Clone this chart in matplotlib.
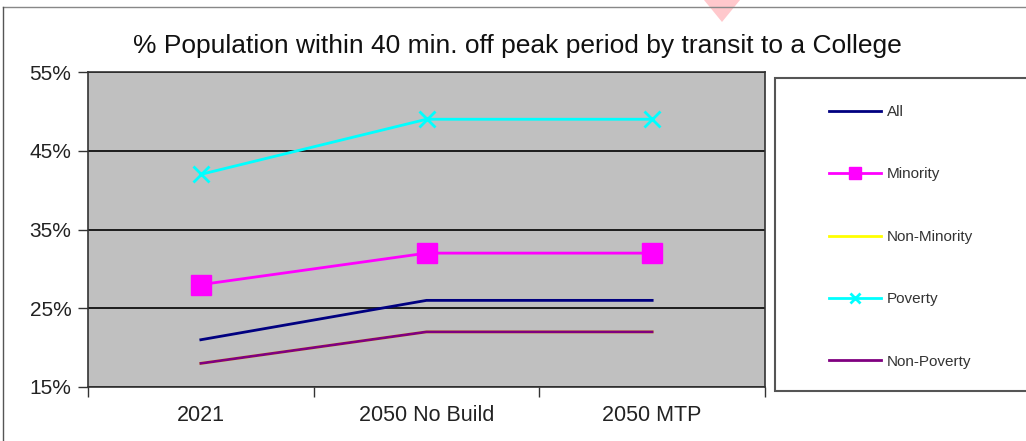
import matplotlib
matplotlib.use("Agg")
import matplotlib.pyplot as plt
from matplotlib.patches import Rectangle, Polygon
from matplotlib.lines import Line2D
from matplotlib.ticker import FixedLocator, PercentFormatter

plt.rcParams['font.family'] = ['Liberation Sans', 'DejaVu Sans']

categories = ["2021", "2050 No Build", "2050 MTP"]
series_names = ["All", "Minority", "Non-Minority", "Poverty", "Non-Poverty"]
all_vals = [21, 26, 26]
minority_vals = [28, 32, 32]
non_minority_vals = [18, 22, 22]
poverty_vals = [42, 49, 49]
non_poverty_vals = [18, 22, 22]
y_ticks = [15, 25, 35, 45, 55]
title = "% Population within 40 min. off peak period by transit to a College"

W, H = 1026, 441
fig = plt.figure(figsize=(W / 100, H / 100), dpi=100)
fig.patch.set_facecolor("white")

# axes placement
ax = fig.add_axes([88 / W, 1 - 387 / H, (765 - 88) / W, (387 - 72) / H])
ax.set_facecolor("#c0c0c0")
x = list(range(len(categories)))

styles = {
    "All": dict(color="#000080", lw=2.0),
    "Minority": dict(color="#ff00ff", lw=2.0, marker="s", ms=14, mec="#ff00ff"),
    "Non-Minority": dict(color="#ffff00", lw=2.0),
    "Poverty": dict(color="#00ffff", lw=2.0, marker="x", ms=12, mew=2.0),
    "Non-Poverty": dict(color="#800080", lw=2.0),
}
data = {
    "All": all_vals,
    "Minority": minority_vals,
    "Non-Minority": non_minority_vals,
    "Poverty": poverty_vals,
    "Non-Poverty": non_poverty_vals,
}
handles = []
for name in series_names:
    (h,) = ax.plot(x, data[name], label=name, zorder=3, **styles[name])
    handles.append(h)

ax.set_xlim(-0.5, len(categories) - 0.5)
ax.set_ylim(15, 55)
ax.yaxis.set_major_locator(FixedLocator(y_ticks))
ax.yaxis.set_major_formatter(PercentFormatter(decimals=0))
ax.grid(axis="y", color="black", lw=1.2, zorder=1)
ax.set_axisbelow(True)

ax.set_xticks(x)
ax.set_xticklabels(categories)
ax.set_xticks([i - 0.5 for i in range(len(categories) + 1)], minor=True)
ax.tick_params(axis="x", which="major", length=0, pad=13, labelsize=15.5, colors="#222222")
ax.tick_params(axis="x", which="minor", length=7, width=1, color="#333333")
ax.tick_params(axis="y", which="major", length=7, width=1, color="#333333", labelsize=15, labelcolor="#222222", pad=5)
for s in ax.spines.values():
    s.set_color("#333333")
    s.set_linewidth(1.2)

fig.text(0.5 * (130 + 905) / W, 1 - 46 / H, title, ha="center", va="center", fontsize=19, color="#111111")

# legend box
fig.patches.append(Rectangle((775 / W, 1 - 391 / H), (1040 - 775) / W, (391 - 78) / H,
                             transform=fig.transFigure, facecolor="white",
                             edgecolor="#555555", lw=1.5, zorder=0))
leg = fig.legend(handles, series_names, loc="upper left",
                 bbox_to_anchor=(829 / W, 1 - 105 / H), frameon=False,
                 fontsize=11, handlelength=3.4, handletextpad=0.4,
                 labelspacing=3.17, borderpad=0, borderaxespad=0,
                 markerscale=0.65)
for t in leg.get_texts():
    t.set_color("#333333")

# figure border (top and left)
fig.lines.append(Line2D([3 / W, 1], [1 - 7 / H, 1 - 7 / H], transform=fig.transFigure, color="#888888", lw=1))
fig.lines.append(Line2D([3 / W, 3 / W], [0, 1 - 7 / H], transform=fig.transFigure, color="#555555", lw=1))

# watermark fragment
fig.patches.append(Polygon([(704 / W, 1), (740 / W, 1), (722 / W, 1 - 22 / H)], closed=True,
                           transform=fig.transFigure, facecolor="#ffc8cc", edgecolor="none"))

fig.savefig("out.png", dpi=100, facecolor="white")
